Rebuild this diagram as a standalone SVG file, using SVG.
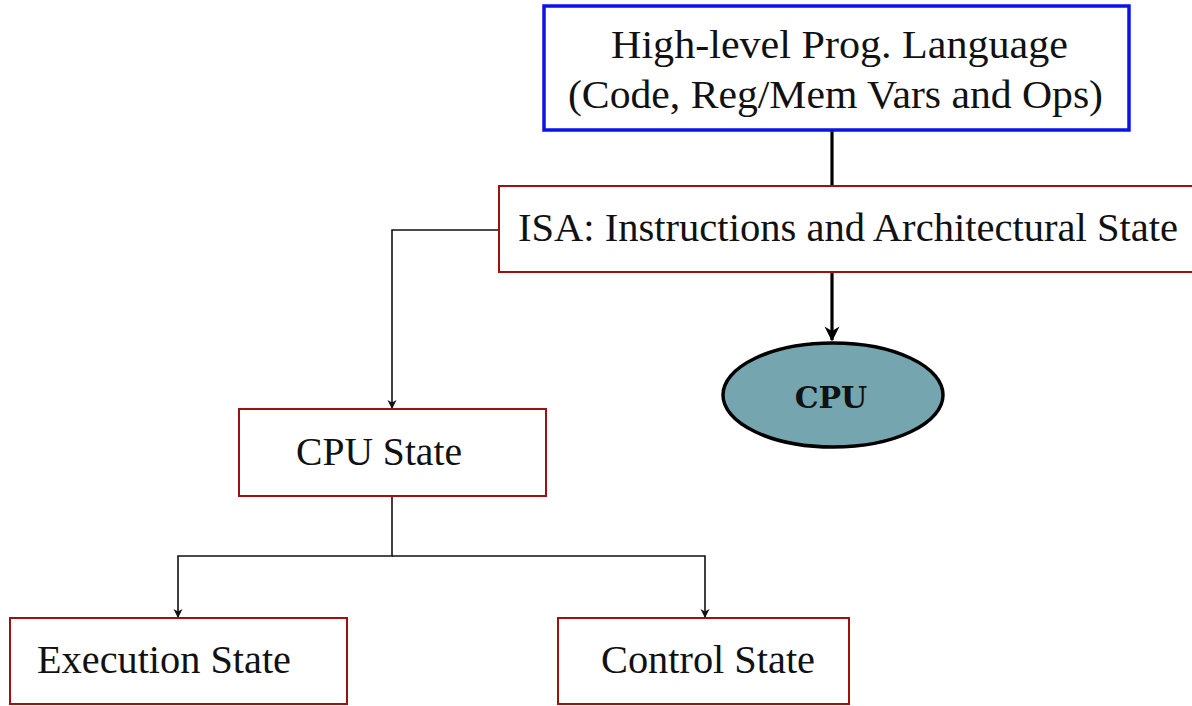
<svg xmlns="http://www.w3.org/2000/svg" width="1192" height="706" viewBox="0 0 1192 706">
  <style>
    .lbl { font-family: "Liberation Serif", "DejaVu Serif", serif; font-size: 40px; fill: #111; }
    .box { fill: #fff; stroke: #a01010; stroke-width: 2; }
    .wire { fill: none; stroke: #111; stroke-width: 1.6; }
    .thick { fill: none; stroke: #000; stroke-width: 3.2; }
  </style>
  <defs>
    <marker id="arrowSmall" viewBox="0 0 10 10" refX="9" refY="5" markerWidth="12" markerHeight="9" markerUnits="userSpaceOnUse" orient="auto" overflow="visible">
      <path d="M0,0 L10,5 L0,10 L3,5 Z" fill="#111"/>
    </marker>
    <marker id="arrowBig" viewBox="0 0 10 10" refX="9" refY="5" markerWidth="22" markerHeight="15" markerUnits="userSpaceOnUse" orient="auto" overflow="visible">
      <path d="M0,0 L10,5 L0,10 L3,5 Z" fill="#000"/>
    </marker>
  </defs>

  <g id="connectors">
    <line class="thick" x1="832" y1="130" x2="832" y2="186"/>
    <line class="thick" x1="832" y1="272" x2="832" y2="340" marker-end="url(#arrowBig)"/>
    <polyline class="wire" points="499,230 392,230 392,408" marker-end="url(#arrowSmall)"/>
    <polyline class="wire" points="392,496 392,556 178,556 178,617" marker-end="url(#arrowSmall)"/>
    <polyline class="wire" points="392,556 705,556 705,617" marker-end="url(#arrowSmall)"/>
  </g>

  <g id="hll">
    <rect x="544" y="6" width="585" height="124" fill="#fff" stroke="#0a14e6" stroke-width="3.5"/>
    <text class="lbl" x="611" y="58" textLength="457" lengthAdjust="spacingAndGlyphs">High-level Prog. Language</text>
    <text class="lbl" x="568" y="108" textLength="535" lengthAdjust="spacingAndGlyphs">(Code, Reg/Mem Vars and Ops)</text>
  </g>

  <g id="isa">
    <rect class="box" x="499" y="186" width="700" height="86"/>
    <text class="lbl" x="518" y="241" textLength="660" lengthAdjust="spacingAndGlyphs">ISA: Instructions and Architectural State</text>
  </g>

  <g id="cpu">
    <ellipse cx="833" cy="395" rx="110" ry="52" fill="#75a6b0" stroke="#000" stroke-width="3.5"/>
    <text x="831" y="408" text-anchor="middle" font-family="'DejaVu Serif', serif" font-weight="bold" font-size="30" fill="#111">CPU</text>
  </g>

  <g id="cpu-state">
    <rect class="box" x="239" y="409" width="307" height="87"/>
    <text class="lbl" x="296" y="465" textLength="166" lengthAdjust="spacingAndGlyphs">CPU State</text>
  </g>

  <g id="exec-state">
    <rect class="box" x="10" y="618" width="337" height="86"/>
    <text class="lbl" x="37" y="673" textLength="254" lengthAdjust="spacingAndGlyphs">Execution State</text>
  </g>

  <g id="control-state">
    <rect class="box" x="558" y="618" width="291" height="86"/>
    <text class="lbl" x="601" y="673" textLength="214" lengthAdjust="spacingAndGlyphs">Control State</text>
  </g>
</svg>
